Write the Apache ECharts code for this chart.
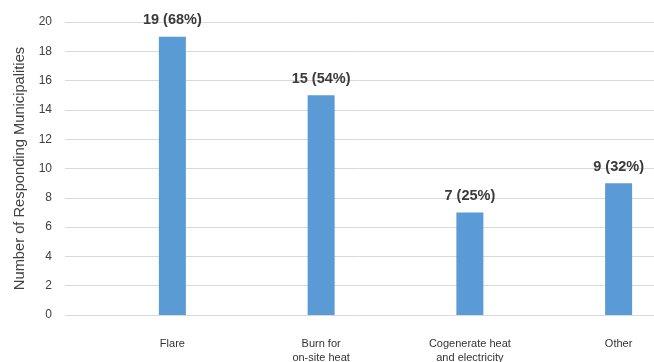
<!DOCTYPE html>
<html>
<head>
<meta charset="utf-8">
<style>
  html, body { margin: 0; padding: 0; background: #ffffff; }
  #chart { width: 654px; height: 362px; }
</style>
<script src="https://cdn.jsdelivr.net/npm/echarts@6/dist/echarts.min.js"></script>
</head>
<body>
<div id="chart"></div>
<script>
// Uses of collected landfill gas, by number of responding municipalities
const categories = ['Flare', 'Burn for\non-site heat', 'Cogenerate heat\nand electricity', 'Other'];
const counts = [19, 15, 7, 9];
const percents = [68, 54, 25, 32];
const yTicks = [0, 2, 4, 6, 8, 10, 12, 14, 16, 18, 20];

const FONT = '"Liberation Sans", Arial, Helvetica, sans-serif';
const yMin = yTicks[0];
const yMax = yTicks[yTicks.length - 1];
const yStep = yTicks[1] - yTicks[0];

const chart = echarts.init(document.getElementById('chart'), null, { renderer: 'canvas' });

chart.setOption({
  animation: false,
  backgroundColor: '#ffffff',
  grid: [
    // full-width grid that carries the value axis and its gridlines
    { left: 65, right: 0, top: 22, bottom: 47, outerBoundsMode: 'none', containLabel: false },
    // grid for the bars; extends beyond the right edge
    { left: 98, width: 595, top: 22, bottom: 47, outerBoundsMode: 'none', containLabel: false }
  ],
  xAxis: [
    { gridIndex: 0, type: 'category', data: categories, show: false },
    {
      gridIndex: 1,
      type: 'category',
      data: categories,
      axisLine: { show: false },
      axisTick: { show: false },
      axisLabel: {
        margin: 22,
        color: '#333333',
        fontFamily: FONT,
        fontSize: 11,
        lineHeight: 14,
        interval: 0
      }
    }
  ],
  yAxis: [
    {
      gridIndex: 0,
      type: 'value',
      min: yMin,
      max: yMax,
      interval: yStep,
      name: 'Number of Responding Municipalities',
      nameLocation: 'middle',
      nameGap: 38,
      nameTextStyle: { color: '#404040', fontFamily: FONT, fontSize: 14.7 },
      axisLine: { show: false },
      axisTick: { show: false },
      axisLabel: { margin: 13, color: '#404040', fontFamily: FONT, fontSize: 12 },
      splitLine: { show: true, lineStyle: { color: '#d9d9d9', width: 1 } }
    },
    {
      gridIndex: 1,
      type: 'value',
      min: yMin,
      max: yMax,
      interval: yStep,
      show: false,
      splitLine: { show: false }
    }
  ],
  series: [
    {
      type: 'bar',
      xAxisIndex: 1,
      yAxisIndex: 1,
      data: counts,
      barWidth: 27,
      itemStyle: { color: '#5b9bd5' },
      label: {
        show: true,
        position: 'top',
        distance: 9,
        fontFamily: FONT,
        fontSize: 14.5,
        fontWeight: 'bold',
        color: '#3a3a3a',
        formatter: p => counts[p.dataIndex] + ' (' + percents[p.dataIndex] + '%)'
      }
    }
  ]
});
</script>
</body>
</html>
